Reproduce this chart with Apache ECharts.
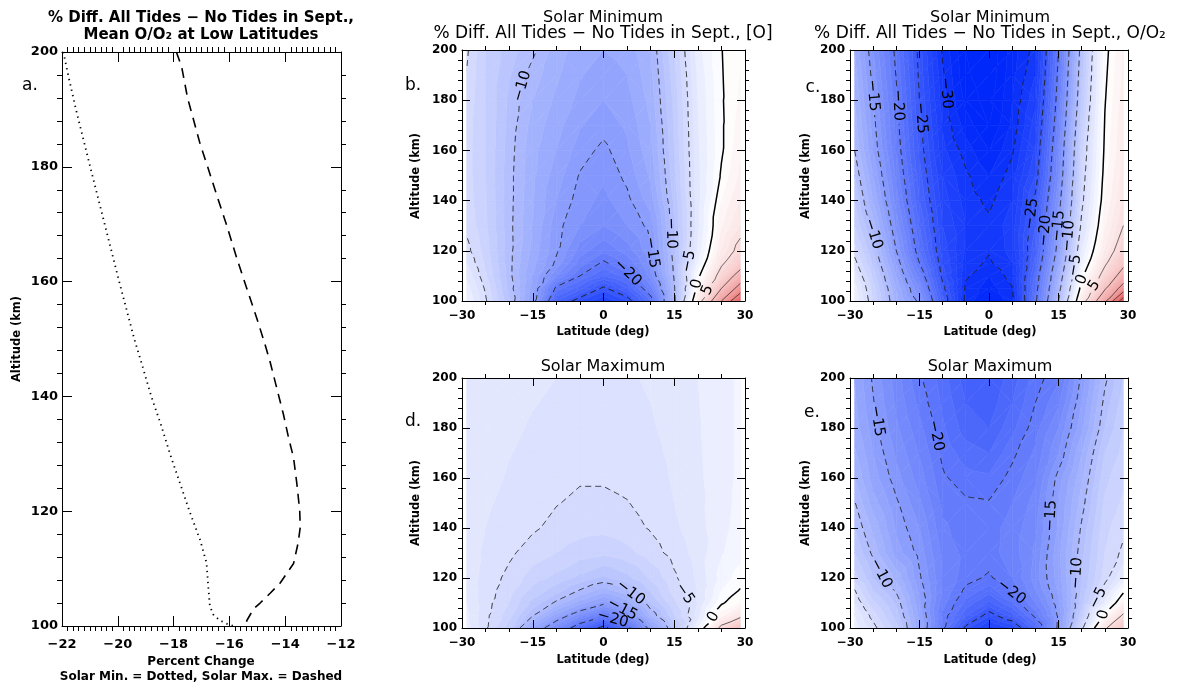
<!DOCTYPE html>
<html>
<head>
<meta charset="utf-8">
<script src="https://cdn.jsdelivr.net/npm/echarts@6/dist/echarts.min.js"></script>
<style>
html,body{margin:0;padding:0;background:#fff;}
#chart{width:1178px;height:687px;}
</style>
</head>
<body>
<div id="chart"></div>
<script>
// ================= DATA =================
// grid of the contour fields
const lats = [-29, -25, -20, -15, -10, -5, 0, 5, 10, 15, 20, 25, 29];
const alts = [100, 105, 110, 115, 120, 130, 140, 150, 160, 170, 180, 190, 200];

// each inner array = one latitude column, values at the altitudes above (% difference)
const oSolarMin = [
  [-2.0,-2.5,-3.2,-4.0,-4.6,-5.3,-5.5,-5.6,-5.6,-5.5,-5.3,-5.05,-4.8],
  [-4.8,-5.2,-5.8,-6.2,-6.5,-6.8,-6.9,-7.0,-7.0,-7.0,-7.0,-7.0,-7.0],
  [-8.8,-9.3,-9.6,-9.6,-9.6,-9.65,-9.6,-9.6,-9.5,-9.35,-9.2,-8.9,-8.6],
  [-14,-13.5,-13,-12.6,-12.3,-12,-11.9,-11.8,-11.7,-11.4,-11.0,-10.5,-9.7],
  [-23,-20.5,-17,-15.3,-14.8,-14.6,-14,-13.5,-13,-12.6,-12.2,-11.8,-11.5],
  [-26,-22.5,-20,-18.5,-17.5,-16,-15.5,-15.1,-14.5,-13.9,-13.3,-12.9,-12.5],
  [-28,-25.4,-22,-20.3,-18.8,-17,-16.3,-15.8,-15.3,-14.6,-14,-13.5,-13],
  [-26,-23,-20.5,-18.8,-17.5,-16,-15.3,-14.7,-14.2,-13.8,-13.4,-13,-12.6],
  [-21,-18.5,-16.5,-15.7,-15.2,-14.6,-13.5,-12.8,-12.3,-12,-11.6,-11.3,-11],
  [-10.5,-10.2,-9.8,-9.6,-9.3,-9.1,-8.7,-8.3,-8.0,-7.9,-7.7,-7.4,-7.0],
  [3,1,-0.5,-2.0,-2.8,-3.3,-3.4,-3.3,-3.2,-3.1,-3.0,-2.8,-2.5],
  [15,10,6.5,4.5,3,1.8,1.0,0.2,-0.2,-0.2,-0.15,-0.1,-0.05],
  [25,17,12,8,6,4,3,2.2,1.8,1.5,1.2,1.0,0.8]
];
const ratioSolarMin = [
  [-2,-2.5,-3.5,-4.5,-5.5,-7,-8,-9,-10,-10.5,-11,-11.5,-12],
  [-6,-6.5,-7.2,-8.2,-9,-10.5,-12,-13,-14,-14.5,-15,-15.5,-16],
  [-11.5,-12,-13,-14,-15,-16.3,-17.5,-18.3,-19,-19.4,-19.7,-20.1,-20.5],
  [-15.5,-17,-18.5,-20,-21,-22,-23,-23.6,-24.2,-24.6,-25,-25.3,-25.5],
  [-23.5,-24.5,-25.5,-26,-26.5,-27,-27.5,-28,-28.7,-29.1,-29.5,-29.8,-30.2],
  [-30.5,-30.3,-29.8,-29.5,-29.2,-29,-29.4,-29.8,-30.5,-31.5,-32.3,-32.8,-33],
  [-32,-31.5,-31,-30.2,-29.9,-29.7,-30.3,-31,-32,-33,-33.5,-33.8,-34],
  [-30.5,-30.1,-29.5,-29,-28.6,-28.5,-29,-29.5,-30.2,-30.8,-31,-31.3,-31.5],
  [-20.5,-21,-21.5,-22.5,-23.2,-24,-24.6,-26,-26.8,-27.5,-28.3,-29,-29.5],
  [-10,-11,-12,-13,-14,-15,-16,-17,-17.5,-18.3,-19,-19.5,-20],
  [3,1,-0.5,-2,-3,-4.5,-5.5,-6,-6.5,-7.2,-8,-8.5,-9],
  [14,9.5,6.5,4.5,3,1.8,1,0.6,0.3,0.1,-0.1,-0.3,-0.5],
  [28,17,12,9,7,5,4,3.5,3,2.8,2.5,2.2,2]
];
const oSolarMax = [
  [-2.6,-2.8,-3.0,-3.2,-3.4,-3.5,-3.5,-3.45,-3.4,-3.35,-3.3,-3.25,-3.2],
  [-4.8,-4.7,-4.6,-4.5,-4.4,-4.2,-4.0,-3.85,-3.7,-3.6,-3.5,-3.45,-3.4],
  [-7.5,-6.6,-6,-5.6,-5.3,-4.8,-4.5,-4.3,-4.1,-3.95,-3.8,-3.7,-3.6],
  [-13,-9.9,-8.3,-7.3,-6.5,-5.5,-4.85,-4.7,-4.5,-4.3,-4.1,-3.95,-3.8],
  [-17,-13.5,-10.3,-8.5,-7.3,-6,-5.3,-4.95,-4.8,-4.55,-4.3,-4.15,-4],
  [-22,-16.5,-12.5,-10.1,-8.3,-6.5,-5.6,-5.2,-4.9,-4.7,-4.5,-4.35,-4.2],
  [-26,-19.5,-14.5,-11.5,-9.2,-6.8,-5.7,-5.2,-4.9,-4.7,-4.5,-4.35,-4.2],
  [-21,-16,-12.5,-10.1,-8.3,-6.3,-5.4,-5.05,-4.7,-4.5,-4.3,-4.2,-4.1],
  [-14,-11,-9,-7.8,-6.8,-5.5,-4.9,-4.6,-4.4,-4.25,-4.1,-4.0,-3.9],
  [-8.5,-7,-6.2,-5.6,-5.2,-4.6,-4.2,-4.0,-3.9,-3.8,-3.7,-3.6,-3.5],
  [-2,-3.5,-3.9,-3.9,-3.8,-3.6,-3.4,-3.3,-3.2,-3.15,-3.1,-3.05,-3],
  [6,1.5,-0.2,-1.0,-1.6,-2.1,-2.3,-2.4,-2.4,-2.4,-2.4,-2.4,-2.4],
  [10,4,1,0.1,-0.5,-1.4,-1.6,-1.7,-1.8,-1.8,-1.8,-1.8,-1.8]
];
const ratioSolarMax = [
  [-2.5,-3,-4,-4.9,-6.5,-8,-9,-9.9,-11,-11.8,-12.5,-12.8,-13],
  [-4.5,-5.5,-6.7,-8,-9,-10.3,-11.3,-12.5,-13.5,-14,-14.5,-14.9,-15.2],
  [-7.5,-8.5,-9.2,-10.2,-11.3,-13.5,-14.2,-14.8,-15.6,-16.2,-16.8,-17.2,-17.5],
  [-12.8,-13.3,-13.8,-14.3,-14.8,-15.4,-16,-16.8,-17.5,-18.1,-18.7,-19.3,-19.8],
  [-19.6,-19.2,-18.6,-18.2,-18,-18.3,-18.8,-19.3,-19.8,-20.3,-20.8,-21.2,-21.5],
  [-25.5,-22.8,-21.3,-20.3,-19.6,-19.3,-19.5,-19.8,-20.6,-21.5,-22.5,-23,-23.5],
  [-28.5,-25.8,-23.3,-21.5,-20.2,-19.4,-19.4,-19.9,-20.8,-22,-23,-23.6,-24],
  [-27,-23.5,-21,-19.8,-19,-18.5,-18.6,-19,-19.6,-20.3,-21.3,-22,-22.5],
  [-22,-19.6,-18,-17,-16.5,-16.8,-17.2,-17.6,-18.2,-18.8,-19.4,-20,-20.5],
  [-14.5,-14.7,-14.2,-13.8,-13.5,-13.3,-13.8,-14,-14.5,-16,-17,-18.2,-19.2],
  [-5.5,-7.3,-8.3,-8.8,-9,-9.3,-9.8,-10.5,-11.2,-12,-13.3,-14,-14.7],
  [4.5,0.5,-2.8,-4.3,-5.5,-6,-6.3,-6.8,-7.3,-8,-9,-9.6,-10.3],
  [9,5.5,2,-0.5,-3,-4.7,-5.3,-5.8,-6.2,-6.7,-7,-7.5,-8]
];

// contour labels: [latitude, altitude, level]
const labelsB = [[-16.2,185,-10],[9.2,119,-15],[5,111,-20],[13.8,127,-10],[17.6,116,-5],[19.4,107,0],[21.2,105,5]];
const labelsC = [[-24.3,182,-15],[-19.2,178,-20],[-14.2,173,-25],[-8.4,183,-30],[8.1,135,-25],[12,128,-20],[14.9,130,-15],[16.7,126,-10],[19.2,114,-5],[20.7,108,0],[22,107,5],[-24.6,127,-10]];
const labelsD = [[6.5,116,-10],[4.4,109,-15],[2.2,105,-20],[18.2,115,-5],[22.8,105,0]];
const labelsE = [[-23.5,183,-15],[-11.3,177,-20],[12,145,-15],[18.5,122,-10],[23.5,112,-5],[23.9,106,0],[-22.1,123,-10],[5.9,117,-20]];

// panel a: mean O/O2 percent change profiles
const minAlt = [200,196,190,180,170,160,150,145,140,135,130,125,120,115,111,107,103.5,102,101,100.4,100];
const minPct = [-21.95,-21.78,-21.5,-20.99,-20.47,-19.95,-19.41,-19.1,-18.8,-18.45,-18.13,-17.78,-17.43,-17.05,-16.82,-16.76,-16.7,-16.58,-16.35,-16.1,-15.85];
const maxAlt = [200,197.4,192,184,180,175,170,164,158.7,153.5,149,146,141.4,136.8,132.8,129.3,124.7,120.1,117.2,114.4,110.9,109.2,107.5,105.7,104,103,101,100];
const maxPct = [-17.9,-17.71,-17.5,-17.05,-16.78,-16.45,-16.11,-15.73,-15.37,-15.01,-14.72,-14.54,-14.3,-14.06,-13.88,-13.7,-13.58,-13.48,-13.46,-13.54,-13.7,-13.94,-14.18,-14.54,-14.9,-15.13,-15.37,-15.43];

const contourLevels = [-40,-35,-30,-25,-20,-15,-10,-5,0,5,10,15,20,25,30,35,40];
const fillStep = 1;

// ================= RENDERING HELPERS =================
function colorOf(v){
  let r,g,b;
  if (v < 0){ const t = Math.min(1, -v/32); r = 255*(1-t); g = 255-215*t; b = 255-5*t; }
  else { const t = Math.min(1, v/35); r = 255-30*t; g = 255-220*t; b = 255-220*t; }
  return 'rgb(' + Math.round(r) + ',' + Math.round(g) + ',' + Math.round(b) + ')';
}
function clipPoly(pts, t, keepAbove){
  const out = [], n = pts.length;
  for (let i = 0; i < n; i++){
    const p = pts[i], q = pts[(i+1)%n];
    const pin = keepAbove ? p.v >= t : p.v <= t;
    const qin = keepAbove ? q.v >= t : q.v <= t;
    if (pin) out.push(p);
    if (pin !== qin){
      const f = (t - p.v)/(q.v - p.v);
      out.push({x: p.x + f*(q.x-p.x), y: p.y + f*(q.y-p.y), v: t});
    }
  }
  return out;
}
function polyEl(pts, col){
  return {type:'polygon', silent:true, shape:{points: pts.map(p=>[p.x,p.y])},
          style:{fill: col, stroke: col, lineWidth: 0.6}};
}
function chainSegs(segs){
  const map = new Map();
  segs.forEach((s,i)=>{ for (let e=0;e<2;e++){ const k=s[e].key; if(!map.has(k)) map.set(k,[]); map.get(k).push(i);} });
  const used = new Array(segs.length).fill(false);
  const lines = [];
  for (let i = 0; i < segs.length; i++){
    if (used[i]) continue;
    used[i] = true;
    const line = [segs[i][0], segs[i][1]];
    const extend = (atEnd) => {
      while (true){
        const endPt = atEnd ? line[line.length-1] : line[0];
        const cands = map.get(endPt.key) || [];
        let found = -1;
        for (const c of cands) if (!used[c]) { found = c; break; }
        if (found < 0) break;
        used[found] = true;
        const s = segs[found];
        const other = s[0].key === endPt.key ? s[1] : s[0];
        if (atEnd) line.push(other); else line.unshift(other);
      }
    };
    extend(true); extend(false);
    lines.push(line);
  }
  return lines;
}
function cutLine(line, holes){
  if (!holes.length) return [line.map(p=>[p.x,p.y])];
  const inside = (x,y)=>holes.some(h=>(x-h.x)*(x-h.x)+(y-h.y)*(y-h.y) < h.r*h.r);
  const pieces = []; let cur = [];
  for (let i = 0; i < line.length-1; i++){
    const a = line[i], b = line[i+1];
    const len = Math.hypot(b.x-a.x, b.y-a.y), n = Math.max(1, Math.ceil(len));
    for (let s = (i===0?0:1); s <= n; s++){
      const x = a.x + (b.x-a.x)*s/n, y = a.y + (b.y-a.y)*s/n;
      if (inside(x,y)) { if (cur.length > 1) pieces.push(cur); cur = []; }
      else cur.push([x,y]);
    }
  }
  if (cur.length > 1) pieces.push(cur);
  return pieces;
}
function levelText(L){ return L < 0 ? '\u2212' + (-L) : '' + L; }

function makeRender(cols, labels){
  return function(params, api){
    const nx = lats.length, ny = alts.length;
    const P = [];
    for (let j = 0; j < ny; j++){
      const row = [];
      for (let i = 0; i < nx; i++){
        const c = api.coord([lats[i], alts[j]]);
        row.push({x:c[0], y:c[1], v:cols[i][j], id:j*nx+i});
      }
      P.push(row);
    }
    const tris = [];
    for (let j = 0; j < ny-1; j++) for (let i = 0; i < nx-1; i++){
      const a=P[j][i], b=P[j][i+1], c=P[j+1][i+1], d=P[j+1][i];
      const mean = (a.v+b.v+c.v+d.v)/4;
      if (Math.abs((a.v+c.v)/2-mean) <= Math.abs((b.v+d.v)/2-mean)) tris.push([a,b,c],[a,c,d]);
      else tris.push([a,b,d],[b,c,d]);
    }
    const fills = [], linesEl = [], texts = [];
    for (const t of tris){
      const vs = t.map(p=>p.v);
      const vmin = Math.min.apply(null, vs), vmax = Math.max.apply(null, vs);
      const k0 = Math.floor(vmin/fillStep), k1 = Math.floor(vmax/fillStep);
      if (k0 === k1){ fills.push(polyEl(t, colorOf((k0+0.5)*fillStep))); continue; }
      for (let k = k0; k <= k1; k++){
        let pg = clipPoly(t, k*fillStep, true);
        pg = clipPoly(pg, (k+1)*fillStep, false);
        if (pg.length >= 3) fills.push(polyEl(pg, colorOf((k+0.5)*fillStep)));
      }
    }
    const fs = 15;
    for (const L of contourLevels){
      const segs = [];
      for (const t of tris){
        const pts = [];
        const E = [[0,1],[1,2],[2,0]];
        for (const e of E){
          const p = t[e[0]], q = t[e[1]];
          if ((p.v >= L) !== (q.v >= L)){
            const f = (L - p.v)/(q.v - p.v);
            pts.push({x:p.x+f*(q.x-p.x), y:p.y+f*(q.y-p.y), key:Math.min(p.id,q.id)*100000+Math.max(p.id,q.id)});
          }
        }
        if (pts.length === 2) segs.push(pts);
      }
      if (!segs.length) continue;
      const lines = chainSegs(segs);
      const holes = [];
      for (const lb of labels){
        if (lb[2] !== L) continue;
        const c = api.coord([lb[0], lb[1]]);
        let best = null, bd = 1e9;
        for (const ln of lines) for (let i = 0; i < ln.length-1; i++){
          const a = ln[i], b = ln[i+1];
          const dx = b.x-a.x, dy = b.y-a.y, l2 = dx*dx+dy*dy || 1e-9;
          let u = ((c[0]-a.x)*dx + (c[1]-a.y)*dy)/l2; u = Math.max(0, Math.min(1, u));
          const px = a.x+u*dx, py = a.y+u*dy;
          const d = (px-c[0])*(px-c[0])+(py-c[1])*(py-c[1]);
          if (d < bd){ bd = d; best = {x:px, y:py, ang:Math.atan2(-dy, dx)}; }
        }
        if (!best) continue;
        let ang = best.ang;
        while (ang > Math.PI/2) ang -= Math.PI;
        while (ang <= -Math.PI/2) ang += Math.PI;
        const txt = levelText(L);
        const w = (txt.length === 1 ? 0.64 : (L < 0 ? 0.84 + 0.64*(txt.length-1) : 0.64*txt.length))*fs;
        holes.push({x:best.x, y:best.y, r:w/2+3});
        texts.push({type:'text', x:best.x, y:best.y, rotation:ang, silent:true,
          style:{text:txt, fill:'#000', font: fs+'px "DejaVu Sans"', align:'center', verticalAlign:'middle',
                 textAlign:'center', textVerticalAlign:'middle'}});
      }
      const style = L < 0 ? {stroke:'#1a1a1a', lineWidth:0.9, lineDash:[6,4], fill:null}
                  : (L === 0 ? {stroke:'#000', lineWidth:1.5, fill:null} : {stroke:'#222', lineWidth:0.7, fill:null});
      for (const ln of lines){
        for (const piece of cutLine(ln, holes)){
          linesEl.push({type:'polyline', silent:true, shape:{points:piece}, style:Object.assign({}, style)});
        }
      }
    }
    return {type:'group', children: fills.concat(linesEl, texts)};
  };
}

// ================= CHART =================
const grids = [
  {left:62, top:52, width:279, height:574},
  {left:462, top:50, width:283, height:251},
  {left:850, top:50, width:278, height:251},
  {left:462, top:378, width:283, height:250},
  {left:850, top:378, width:278, height:250}
];
const fmt = v => v < 0 ? '\u2212' + (-v) : '' + v;
function xAxesFor(gi, min, max, interval, minorSplit, big){
  const base = {type:'value', gridIndex:gi, min, max, interval, z:10,
    axisLine:{show:true, onZero:false, lineStyle:{color:'#000', width:1}},
    axisTick:{show:true, inside:true, length: big?10:8, lineStyle:{color:'#000', width:1}},
    minorTick:{show:true, splitNumber:minorSplit, length: big?-5:-4, lineStyle:{color:'#000', width:1}},
    splitLine:{show:false}, minorSplitLine:{show:false}};
  return [
    Object.assign({}, base, {position:'bottom', axisLabel:{show:true, formatter:fmt, color:'#000',
      fontFamily:'DejaVu Sans', fontWeight:'bold', fontSize: big?13:12, margin: big?12:9}}),
    Object.assign({}, base, {position:'top', axisLabel:{show:false}})
  ];
}
function yAxesFor(gi, big){
  const base = {type:'value', gridIndex:gi, min:100, max:200, interval:20, z:10,
    axisLine:{show:true, onZero:false, lineStyle:{color:'#000', width:1}},
    axisTick:{show:true, inside:true, length: big?10:8, lineStyle:{color:'#000', width:1}},
    minorTick:{show:true, splitNumber:5, length: big?-5:-4, lineStyle:{color:'#000', width:1}},
    splitLine:{show:false}, minorSplitLine:{show:false}};
  return [
    Object.assign({}, base, {position:'left', axisLabel:{show:true, color:'#000',
      fontFamily:'DejaVu Sans', fontWeight:'bold', fontSize: big?13:12, margin: big?4:5}}),
    Object.assign({}, base, {position:'right', axisLabel:{show:false}})
  ];
}
const xAxis = [].concat(
  xAxesFor(0, -22, -12, 2, 10, true),
  xAxesFor(1, -30, 30, 15, 3, false),
  xAxesFor(2, -30, 30, 15, 3, false),
  xAxesFor(3, -30, 30, 15, 3, false),
  xAxesFor(4, -30, 30, 15, 3, false)
);
const yAxis = [].concat(yAxesFor(0,true), yAxesFor(1,false), yAxesFor(2,false), yAxesFor(3,false), yAxesFor(4,false));

const fields = [oSolarMin, ratioSolarMin, oSolarMax, ratioSolarMax];
const panelLabels = [labelsB, labelsC, labelsD, labelsE];
const series = [
  {type:'line', xAxisIndex:0, yAxisIndex:0, data:minAlt.map((a,i)=>[minPct[i], a]), showSymbol:false, symbol:'none',
   lineStyle:{color:'#000', width:1.8, type:[1.3,4.2]}, z:3},
  {type:'line', xAxisIndex:0, yAxisIndex:0, data:maxAlt.map((a,i)=>[maxPct[i], a]), showSymbol:false, symbol:'none',
   lineStyle:{color:'#000', width:1.6, type:[10,7]}, z:3}
];
fields.forEach((f, p) => {
  series.push({type:'custom', coordinateSystem:'cartesian2d', xAxisIndex:2*(p+1), yAxisIndex:2*(p+1),
    data:[[0,150]], clip:true, silent:true, z:1, renderItem: makeRender(f, panelLabels[p])});
});

const T = (text, x, y, font, extra) => Object.assign({type:'text', x, y, silent:true,
  style:{text, font, fill:'#000', align:'center', verticalAlign:'middle', textAlign:'center', textVerticalAlign:'middle'}}, extra||{});
const titleFont = '16px "DejaVu Sans"';
const title2Font = '17px "DejaVu Sans"';
const graphic = [
  T('% Diff. All Tides \u2212 No Tides in Sept.,', 201, 18, 'bold 15px "DejaVu Sans"'),
  T('Mean O/O\u2082 at Low Latitudes', 201, 35, 'bold 15px "DejaVu Sans"'),
  T('Solar Minimum', 603, 18, titleFont),
  T('% Diff. All Tides \u2212 No Tides in Sept., [O]', 603, 34, title2Font),
  T('Solar Minimum', 990, 18, titleFont),
  T('% Diff. All Tides \u2212 No Tides in Sept., O/O\u2082', 990, 34, title2Font),
  T('Solar Maximum', 603, 367, titleFont),
  T('Solar Maximum', 990, 367, titleFont),
  T('a.', 30, 86, '17px "DejaVu Sans"'),
  T('b.', 413, 86, '17px "DejaVu Sans"'),
  T('c.', 813, 88, '17px "DejaVu Sans"'),
  T('d.', 413, 422, '17px "DejaVu Sans"'),
  T('e.', 812, 413, '17px "DejaVu Sans"'),
  T('Percent Change', 201, 662, 'bold 12px "DejaVu Sans"'),
  T('Solar Min. = Dotted, Solar Max. = Dashed', 201, 677, 'bold 12px "DejaVu Sans"'),
  T('Latitude (deg)', 603, 332, 'bold 11.5px "DejaVu Sans"'),
  T('Latitude (deg)', 990, 332, 'bold 11.5px "DejaVu Sans"'),
  T('Latitude (deg)', 603, 660, 'bold 11.5px "DejaVu Sans"'),
  T('Latitude (deg)', 990, 660, 'bold 11.5px "DejaVu Sans"'),
  T('Altitude (km)', 17, 339, 'bold 11.5px "DejaVu Sans"', {rotation:Math.PI/2}),
  T('Altitude (km)', 416, 176, 'bold 11.5px "DejaVu Sans"', {rotation:Math.PI/2}),
  T('Altitude (km)', 806, 176, 'bold 11.5px "DejaVu Sans"', {rotation:Math.PI/2}),
  T('Altitude (km)', 416, 503, 'bold 11.5px "DejaVu Sans"', {rotation:Math.PI/2}),
  T('Altitude (km)', 806, 503, 'bold 11.5px "DejaVu Sans"', {rotation:Math.PI/2})
];

const chart = echarts.init(document.getElementById('chart'), null, {renderer:'canvas'});
chart.setOption({
  animation:false,
  backgroundColor:'#fff',
  grid: grids,
  xAxis, yAxis, series, graphic
});
</script>
</body>
</html>
